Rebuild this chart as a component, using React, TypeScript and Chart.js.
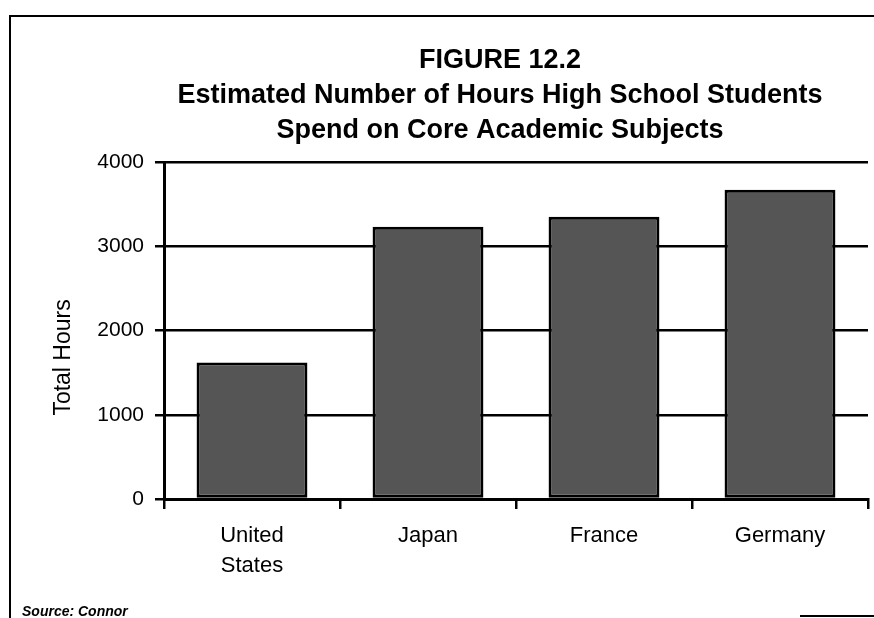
import React, { useEffect, useRef } from 'react';
import { Chart, registerables } from 'chart.js';

Chart.register(...registerables);

const categories: (string | string[])[] = [['United', 'States'], 'Japan', 'France', 'Germany'];
const hours: number[] = [1620, 3230, 3350, 3670];
const yMin = 0;
const yMax = 4000;
const yStep = 1000;
const titleLines: string[] = [
  'FIGURE 12.2',
  'Estimated Number of Hours High School Students',
  'Spend on Core Academic Subjects',
];
const yAxisTitle = 'Total Hours';
const sourceNote = 'Source: Connor';

const FONT = '"Liberation Sans", Arial, Helvetica, sans-serif';

const decorPlugin = {
  id: 'decor',
  afterDraw(chart: any) {
    const ctx = chart.ctx as CanvasRenderingContext2D;
    const area = chart.chartArea;
    ctx.save();
    // frame
    ctx.strokeStyle = '#000';
    ctx.lineWidth = 2;
    ctx.beginPath();
    ctx.moveTo(10, chart.height);
    ctx.lineTo(10, 16);
    ctx.lineTo(chart.width, 16);
    ctx.stroke();
    ctx.beginPath();
    ctx.moveTo(800, chart.height - 2);
    ctx.lineTo(chart.width, chart.height - 2);
    ctx.stroke();
    ctx.fillStyle = '#000';
    // title
    ctx.font = `bold 27px ${FONT}`;
    ctx.textAlign = 'center';
    ctx.textBaseline = 'middle';
    const cx = 500;
    titleLines.forEach((line, i) => {
      ctx.fillText(line, cx, area.top - 101 + i * 35);
    });
    // y axis title
    ctx.save();
    ctx.translate(area.left - 100, area.top + (area.bottom - area.top) * 0.58);
    ctx.rotate(-Math.PI / 2);
    ctx.font = `23px ${FONT}`;
    ctx.textAlign = 'center';
    ctx.textBaseline = 'middle';
    ctx.fillText(yAxisTitle, 0, 0);
    ctx.restore();
    // source
    ctx.font = `italic bold 14px ${FONT}`;
    ctx.textAlign = 'left';
    ctx.textBaseline = 'alphabetic';
    ctx.fillText(sourceNote, 22, chart.height - 2);
    ctx.restore();
  },
};

export default function App() {
  const ref = useRef<HTMLCanvasElement | null>(null);
  useEffect(() => {
    if (!ref.current) return;
    const chart = new Chart(ref.current, {
      type: 'bar',
      data: {
        labels: categories,
        datasets: [
          {
            data: hours,
            backgroundColor: '#555555',
            borderColor: '#000000',
            borderWidth: 3,
            borderSkipped: false,
            barPercentage: 0.63,
            categoryPercentage: 1,
          },
        ],
      },
      options: {
        responsive: false,
        animation: false,
        layout: { padding: { left: 0, right: 6, top: 162, bottom: 0 } },
        plugins: {
          legend: { display: false },
          tooltip: { enabled: false },
          title: { display: false },
        },
        scales: {
          x: {
            afterFit: (scale: any) => {
              scale.height = 119;
            },
            border: { display: true, color: '#000', width: 3 },
            grid: {
              display: true,
              drawOnChartArea: false,
              drawTicks: true,
              tickLength: 10,
              color: '#000',
              lineWidth: 2.5,
            },
            ticks: {
              color: '#000',
              padding: 12,
              font: { family: FONT, size: 22, lineHeight: 30 / 22 },
              maxRotation: 0,
            },
          },
          y: {
            min: yMin,
            max: yMax,
            afterFit: (scale: any) => {
              scale.width = 164;
            },
            border: { display: true, color: '#000', width: 3 },
            grid: {
              display: true,
              drawOnChartArea: true,
              drawTicks: true,
              tickLength: 9,
              color: '#000',
              lineWidth: 2.5,
            },
            ticks: {
              stepSize: yStep,
              color: '#000',
              padding: 11,
              font: { family: FONT, size: 21 },
              callback: (value: any) => String(value),
            },
          },
        },
      },
      plugins: [decorPlugin],
    });
    return () => chart.destroy();
  }, []);
  return (
    <div style={{ position: 'fixed', left: 0, top: 0, width: 874, height: 618, background: '#fff' }}>
      <canvas ref={ref} width={874} height={618} style={{ display: 'block' }} />
    </div>
  );
}
